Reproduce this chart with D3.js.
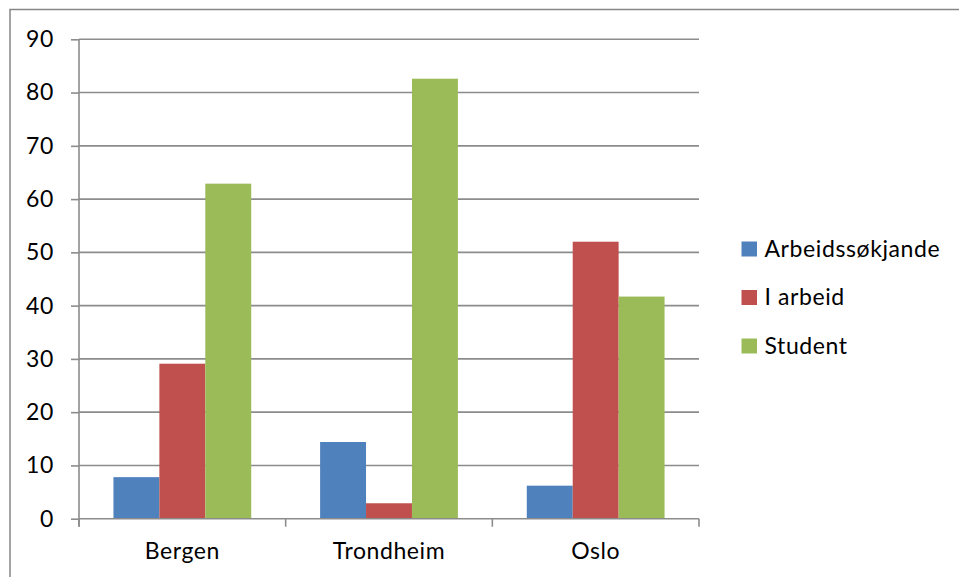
<!DOCTYPE html>
<html>
<head>
<meta charset="utf-8">
<script src="https://cdn.jsdelivr.net/npm/d3@7/dist/d3.min.js"></script>
<style>
  html, body { margin: 0; padding: 0; background: #fff; }
  svg { display: block; }
  text { font-family: Lato, "Open Sans", sans-serif; fill: #000; }
</style>
</head>
<body>
<svg id="chart" width="959" height="577"></svg>
<script>
// Cities on the x axis
const categories = ["Bergen", "Trondheim", "Oslo"];
// Series names and their values per city (percent)
const seriesNames = ["Arbeidssøkjande", "I arbeid", "Student"];
const arbeidssokjande = [7.8, 14.4, 6.2];
const iArbeid = [29.1, 2.9, 52.0];
const student = [62.9, 82.6, 41.7];
const seriesValues = [arbeidssokjande, iArbeid, student];
const seriesColors = ["#4F81BD", "#C0504D", "#9BBB59"];
// Value axis ticks
const yTicks = [0, 10, 20, 30, 40, 50, 60, 70, 80, 90];

const FONT_SIZE = "23px";
const LETTER_SPACING = "0.6px";

const svg = d3.select("#chart");
const W = 959, H = 577;

// Frame around the chart area
svg.append("rect")
  .attr("x", 10).attr("y", 9.5)
  .attr("width", W + 20).attr("height", H + 20)
  .attr("fill", "none")
  .attr("stroke", "#868686")
  .attr("stroke-width", 1.5);

const plot = { left: 79, right: 699, top: 39.3, bottom: 518.7 };

const x = d3.scaleBand()
  .domain(categories)
  .range([plot.left, plot.right])
  .paddingInner(0).paddingOuter(0);

// Bars within a category: gap width 150% of a bar
const inner = d3.scaleBand()
  .domain(seriesNames)
  .range([0, x.bandwidth()])
  .paddingInner(0)
  .paddingOuter(0.75);

const y = d3.scaleLinear()
  .domain([0, 90])
  .range([plot.bottom, plot.top]);

// Horizontal gridlines
svg.append("g")
  .selectAll("line")
  .data(yTicks.filter(t => t > 0))
  .join("line")
  .attr("x1", plot.left).attr("x2", plot.right)
  .attr("y1", d => y(d)).attr("y2", d => y(d))
  .attr("stroke", "#8C8C8C")
  .attr("stroke-width", 1.6);

// Bars
const table = categories.map((c, i) => ({
  category: c,
  values: seriesNames.map((s, j) => ({ series: s, value: seriesValues[j][i], color: seriesColors[j] }))
}));

svg.append("g")
  .selectAll("g")
  .data(table)
  .join("g")
  .attr("transform", d => `translate(${x(d.category)},0)`)
  .selectAll("rect")
  .data(d => d.values)
  .join("rect")
  .attr("x", d => inner(d.series))
  .attr("width", inner.bandwidth())
  .attr("y", d => y(d.value))
  .attr("height", d => y(0) - y(d.value))
  .attr("fill", d => d.color);

// Y axis
const yAxis = d3.axisLeft(y)
  .tickValues(yTicks)
  .tickSize(8)
  .tickPadding(17)
  .tickFormat(d3.format("d"));

const gy = svg.append("g")
  .attr("transform", `translate(${plot.left},0)`)
  .call(yAxis);
gy.select(".domain")
  .attr("stroke", "#8C8C8C").attr("stroke-width", 1.6)
  .attr("d", `M0,${plot.top}V${plot.bottom + 8}`);
gy.selectAll(".tick line").attr("stroke", "#8C8C8C").attr("stroke-width", 1.6);
gy.selectAll(".tick text")
  .attr("font-size", FONT_SIZE)
  .attr("letter-spacing", LETTER_SPACING)
  .attr("font-family", "Lato, sans-serif")
  .attr("fill", "#000");

// X axis
const xAxis = d3.axisBottom(x).tickSize(0).tickPadding(24);
const gx = svg.append("g")
  .attr("transform", `translate(0,${plot.bottom})`)
  .call(xAxis);
gx.select(".domain")
  .attr("stroke", "#8C8C8C").attr("stroke-width", 1.6)
  .attr("d", `M${plot.left},0H${plot.right}`);
gx.selectAll(".tick text")
  .attr("font-size", FONT_SIZE)
  .attr("letter-spacing", LETTER_SPACING)
  .attr("font-family", "Lato, sans-serif")
  .attr("fill", "#000");

// Category separator ticks
svg.append("g")
  .selectAll("line")
  .data(categories.map(c => x(c)).concat([x(categories[categories.length - 1]) + x.bandwidth()]))
  .join("line")
  .attr("x1", d => d).attr("x2", d => d)
  .attr("y1", plot.bottom).attr("y2", plot.bottom + 8)
  .attr("stroke", "#8C8C8C").attr("stroke-width", 1.6);

// Legend
const legend = svg.append("g")
  .attr("transform", "translate(741.5,241.5)");
const item = legend.selectAll("g")
  .data(seriesNames)
  .join("g")
  .attr("transform", (d, i) => `translate(0,${i * 48.5})`);
item.append("rect")
  .attr("width", 15.5).attr("height", 15)
  .attr("fill", (d, i) => seriesColors[i]);
item.append("text")
  .attr("x", 23).attr("y", 15)
  .attr("font-size", FONT_SIZE)
  .attr("letter-spacing", LETTER_SPACING)
  .text(d => d);
</script>
</body>
</html>
